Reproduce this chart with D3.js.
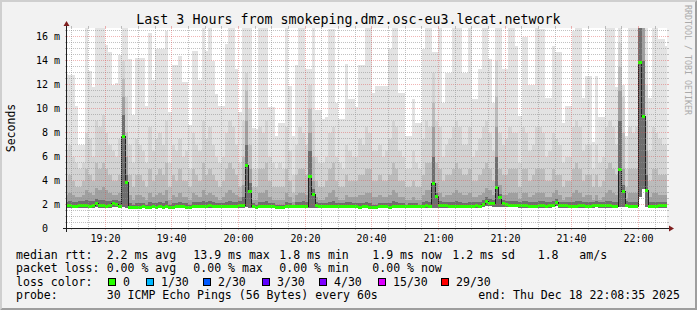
<!DOCTYPE html>
<html>
<head>
<meta charset="utf-8">
<script src="https://cdn.jsdelivr.net/npm/d3@7"></script>
<style>
body { margin: 0; background: #f2f2f2; }
svg text { font-family: "DejaVu Sans Mono", monospace; }
</style>
</head>
<body>
<svg id="vis" width="697" height="310"></svg>
<script>
// one column per minute, first column starts 19:08:00 (UTC), 181 columns
var medianRtt = [
 1.95,1.95,1.9,1.9,2.0,1.95,1.95,1.9,2.0,2.1,
 2.0,1.95,1.9,1.95,2.1,2.05,1.9,7.7,3.9,1.8,
 1.8,1.8,1.8,1.85,1.8,1.8,1.85,1.8,1.85,1.8,
 1.85,1.8,1.8,1.85,1.9,1.85,1.8,1.8,1.85,1.85,
 1.9,1.85,1.85,1.95,1.9,1.85,1.9,1.85,1.85,1.9,
 1.85,1.9,2.0,1.95,5.3,3.1,1.85,1.8,1.85,1.9,
 1.9,1.85,1.85,1.8,1.8,1.8,1.85,1.85,1.85,1.85,
 1.85,1.9,1.85,4.4,2.9,1.95,1.85,1.85,1.85,1.9,
 1.9,1.85,1.85,1.9,1.9,1.9,1.85,1.85,1.8,1.85,
 1.85,1.8,1.8,1.8,1.85,1.85,1.85,1.8,1.85,1.9,
 1.9,1.85,1.85,1.9,1.85,1.9,1.85,1.9,1.95,1.85,
 3.8,2.7,1.95,1.95,1.95,1.9,1.85,1.9,1.9,1.85,
 1.85,1.9,1.9,1.95,1.9,2.05,2.3,2.15,2.1,3.5,
 2.6,2.1,2.05,2.0,2.0,2.0,1.95,1.95,1.95,1.9,
 1.9,1.9,1.95,1.95,1.9,1.95,2.0,2.2,1.95,1.95,
 1.95,1.9,1.9,1.9,1.95,1.95,1.9,1.9,1.95,2.0,
 1.95,1.95,1.95,1.95,1.9,1.85,5.0,3.1,2.0,1.9,
 1.9,1.85,13.9,9.4,3.2,1.9,1.9,1.9,1.95,1.95,
 1.95];

var smokeMax = [
 12.9,12.8,12.8,10.2,7.0,7.0,16.7,13.1,11.8,16.7,
 16.7,16.7,15.3,14.7,12.0,12.1,14.5,16.7,16.7,14.1,
 9.5,14.2,14.2,14.2,10.2,16.3,12.4,15.0,15.0,15.0,
 16.5,9.7,13.6,13.6,14.4,12.2,12.2,8.6,14.8,14.8,
 12.4,16.7,14.8,16.7,14.0,11.2,10.2,10.2,15.4,16.7,
 16.7,13.3,9.7,16.7,16.7,16.7,8.4,8.3,16.7,16.7,
 16.7,10.1,10.1,7.7,8.8,8.8,16.7,11.9,7.7,13.6,
 16.7,16.7,13.3,13.3,16.7,9.9,9.9,9.1,9.3,16.6,
 16.6,10.5,9.1,9.1,13.7,10.8,10.8,10.1,13.6,13.6,
 16.7,16.7,11.3,11.9,11.9,11.9,11.9,15.0,16.7,16.7,
 11.3,11.3,7.7,7.7,10.8,8.8,8.8,15.0,16.7,16.7,
 14.7,14.7,16.7,10.5,13.0,13.0,16.7,16.7,16.7,13.0,
 13.0,16.7,10.8,10.8,13.3,16.7,16.7,14.1,10.5,16.7,
 16.7,13.3,13.3,16.7,16.7,15.2,9.4,16.0,16.0,12.0,
 12.0,16.7,16.6,16.6,10.9,10.9,15.2,14.7,14.7,8.8,
 10.2,10.2,16.5,16.7,16.7,10.9,12.7,12.7,7.2,12.7,
 9.3,9.3,16.7,16.7,16.7,11.8,16.7,12.0,7.7,16.7,
 16.7,16.7,16.7,16.7,16.7,10.9,16.7,16.7,15.8,15.8,
 15.2];

var smokeUpper = [
 6.5,7.0,6.0,5.5,5.0,5.5,8.0,7.5,6.0,9.0,
 8.5,9.5,8.0,7.0,6.5,6.0,7.5,14.0,11.0,7.0,
 5.5,7.5,7.0,6.5,5.5,8.5,6.5,7.5,8.0,7.0,
 9.0,5.5,7.0,6.5,7.5,6.0,6.5,5.0,8.0,7.0,
 6.5,9.0,7.5,8.5,7.0,6.0,5.5,6.0,8.0,9.0,
 8.5,7.0,5.5,9.0,13.0,10.0,5.0,5.0,8.5,8.0,
 9.0,6.0,5.5,5.0,5.5,5.0,8.5,6.5,4.5,7.0,
 8.5,8.0,7.0,12.0,9.0,6.0,5.5,5.5,6.0,8.0,
 8.5,6.0,5.5,5.0,7.0,6.5,6.0,6.0,7.5,7.0,
 8.5,8.0,6.5,6.5,7.0,6.0,6.5,7.5,9.0,8.5,
 6.5,6.0,5.0,5.0,6.5,5.5,5.0,7.5,9.0,8.5,
 13.0,9.0,8.5,6.0,7.0,7.5,8.5,9.0,8.5,7.0,
 7.0,8.5,6.0,6.5,7.5,8.5,9.0,8.0,6.5,14.0,
 8.0,7.0,7.5,8.5,8.0,8.0,5.5,8.5,8.0,6.5,
 7.0,8.5,8.5,8.0,6.0,6.5,8.0,7.5,7.0,5.5,
 6.0,6.0,8.5,9.0,8.5,6.5,7.0,7.0,5.0,7.0,
 5.5,6.0,8.5,9.0,8.5,7.0,15.5,11.0,5.0,8.5,
 8.0,8.5,16.7,16.7,12.0,6.5,8.5,8.0,7.5,7.0,
 7.0];

var smokeMid = [
 4.0,4.5,4.0,3.5,3.5,4.0,5.0,4.5,4.0,5.5,
 5.0,5.5,5.0,4.5,4.0,4.0,4.5,12.5,8.0,4.5,
 3.5,4.5,4.5,4.0,3.5,5.0,4.0,4.5,5.0,4.5,
 5.5,3.5,4.5,4.0,5.0,4.0,4.0,3.5,5.0,4.5,
 4.0,5.5,4.5,5.0,4.5,4.0,3.5,4.0,5.0,5.5,
 5.0,4.5,3.5,6.0,11.5,7.0,3.5,3.5,5.0,5.0,
 5.5,4.0,3.5,3.5,3.5,3.5,5.0,4.0,3.0,4.5,
 5.0,5.0,4.5,10.0,6.0,4.0,3.5,3.5,4.0,5.0,
 5.5,4.0,3.5,3.5,4.5,4.0,4.0,4.0,4.5,4.5,
 5.0,5.0,4.0,4.0,4.5,4.0,4.0,4.5,5.5,5.0,
 4.0,4.0,3.5,3.5,4.0,3.5,3.5,4.5,5.5,5.5,
 10.5,5.5,5.0,4.0,4.5,4.5,5.0,5.5,5.0,4.5,
 4.5,5.0,4.0,4.0,4.5,5.0,5.5,5.0,4.0,11.0,
 5.0,4.5,4.5,5.0,5.0,5.0,3.5,5.0,5.0,4.0,
 4.5,5.0,5.0,5.0,4.0,4.0,5.0,4.5,4.5,3.5,
 4.0,4.0,5.0,5.5,5.0,4.0,4.5,4.5,3.5,4.5,
 3.5,4.0,5.0,5.5,5.0,4.5,13.5,8.0,3.5,5.0,
 5.0,5.0,16.7,16.7,9.0,4.0,5.0,5.0,4.5,4.5,
 4.5];

var smokeLower = [
 2.8,3.0,2.8,2.6,2.6,2.8,3.2,3.0,2.8,3.4,
 3.2,3.5,3.2,3.0,2.8,2.8,3.0,11.0,6.0,2.8,
 2.4,2.8,2.8,2.6,2.4,3.0,2.6,2.8,3.0,2.8,
 3.2,2.4,2.8,2.6,3.0,2.6,2.6,2.4,3.0,2.8,
 2.6,3.2,2.8,3.0,2.8,2.6,2.4,2.6,3.0,3.2,
 3.0,2.8,2.6,3.6,9.0,5.0,2.4,2.4,3.0,3.0,
 3.2,2.6,2.4,2.4,2.4,2.4,3.0,2.6,2.2,2.8,
 3.0,3.0,2.8,8.0,4.0,2.6,2.4,2.4,2.6,3.0,
 3.2,2.6,2.4,2.4,2.8,2.6,2.6,2.6,2.8,2.8,
 3.0,3.0,2.6,2.6,2.8,2.6,2.6,2.8,3.2,3.0,
 2.6,2.6,2.4,2.4,2.6,2.4,2.4,2.8,3.2,3.2,
 8.5,3.8,3.0,2.6,2.8,2.8,3.0,3.2,3.0,2.8,
 2.8,3.0,2.6,2.6,2.8,3.0,3.4,3.2,2.8,8.5,
 3.6,2.8,2.8,3.0,3.0,3.0,2.5,3.0,3.0,2.6,
 2.8,3.0,3.0,3.0,2.6,2.6,3.0,3.2,2.8,2.4,
 2.6,2.6,3.0,3.2,3.0,2.6,2.8,2.8,2.4,2.8,
 2.4,2.6,3.0,3.2,3.0,2.8,11.5,5.0,2.5,3.0,
 3.0,3.0,16.7,16.7,6.5,2.6,3.0,3.0,2.8,2.8,
 2.8];

var smokeInner = [
 2.2,2.3,2.2,2.2,2.3,2.3,2.4,2.3,2.3,2.5,
 2.4,2.4,2.3,2.3,2.4,2.4,2.3,9.5,4.5,2.1,
 2.0,2.1,2.1,2.1,2.0,2.2,2.1,2.1,2.2,2.1,
 2.3,2.0,2.1,2.1,2.2,2.1,2.1,2.0,2.2,2.2,
 2.2,2.3,2.2,2.3,2.2,2.1,2.1,2.1,2.2,2.3,
 2.2,2.2,2.3,2.6,7.0,3.8,2.1,2.0,2.2,2.2,
 2.3,2.1,2.1,2.0,2.0,2.0,2.2,2.1,2.0,2.2,
 2.2,2.3,2.2,6.5,3.3,2.2,2.1,2.1,2.1,2.2,
 2.3,2.1,2.1,2.1,2.2,2.2,2.1,2.1,2.1,2.1,
 2.2,2.1,2.0,2.0,2.1,2.1,2.1,2.1,2.3,2.2,
 2.1,2.1,2.0,2.1,2.1,2.1,2.0,2.2,2.3,2.2,
 6.0,3.0,2.3,2.2,2.2,2.2,2.2,2.3,2.2,2.1,
 2.1,2.2,2.2,2.2,2.2,2.4,2.6,2.5,2.4,6.0,
 2.9,2.4,2.3,2.3,2.3,2.3,2.2,2.3,2.3,2.2,
 2.2,2.2,2.3,2.3,2.2,2.2,2.3,2.5,2.2,2.2,
 2.2,2.2,2.2,2.3,2.3,2.2,2.2,2.2,2.2,2.3,
 2.2,2.2,2.3,2.3,2.2,2.2,9.0,3.6,2.3,2.2,
 2.2,2.2,16.7,14.0,4.5,2.2,2.2,2.2,2.2,2.2,
 2.2];

var smokeMin = [
 1.75,1.75,1.7,1.7,1.75,1.75,1.75,1.7,1.75,1.8,
 1.75,1.75,1.7,1.75,1.8,1.8,1.7,1.8,1.75,1.65,
 1.65,1.65,1.65,1.7,1.65,1.65,1.7,1.65,1.7,1.65,
 1.7,1.65,1.65,1.7,1.7,1.7,1.65,1.65,1.7,1.7,
 1.7,1.7,1.7,1.75,1.7,1.7,1.7,1.7,1.7,1.7,
 1.7,1.7,1.75,1.75,1.8,1.75,1.7,1.65,1.7,1.7,
 1.7,1.7,1.7,1.65,1.65,1.65,1.7,1.7,1.7,1.7,
 1.7,1.7,1.7,1.75,1.75,1.75,1.7,1.7,1.7,1.7,
 1.7,1.7,1.7,1.7,1.7,1.7,1.7,1.7,1.65,1.7,
 1.7,1.65,1.65,1.65,1.7,1.7,1.7,1.65,1.7,1.7,
 1.7,1.7,1.7,1.7,1.7,1.7,1.7,1.7,1.75,1.7,
 1.75,1.75,1.75,1.75,1.75,1.7,1.7,1.7,1.7,1.7,
 1.7,1.7,1.7,1.75,1.7,1.8,1.9,1.85,1.8,1.8,
 1.8,1.8,1.8,1.8,1.8,1.8,1.75,1.75,1.75,1.7,
 1.7,1.7,1.75,1.75,1.7,1.75,1.8,1.85,1.75,1.75,
 1.75,1.7,1.7,1.7,1.75,1.75,1.7,1.7,1.75,1.8,
 1.75,1.75,1.75,1.75,1.7,1.7,1.8,1.8,1.8,1.7,
 1.7,1.7,2.6,3.3,1.8,1.7,1.7,1.7,1.75,1.75,
 1.75];

var yTickValues = [0, 2, 4, 6, 8, 10, 12, 14, 16];
var yTickLabels = ["0\u00a0\u00a0", "2 m", "4 m", "6 m", "8 m", "10 m", "12 m", "14 m", "16 m"];
var xTickLabels = ["19:20", "19:40", "20:00", "20:20", "20:40", "21:00", "21:20", "21:40", "22:00"];

var rttStats = ["2.2 ms avg", "13.9 ms max", "1.8 ms min", "1.9 ms now", "1.2 ms sd", "1.8", "am/s"];
var lossStats = ["0.00 % avg", "0.00 % max", "0.00 % min", "0.00 % now"];
var lossLabels = ["0", "1/30", "2/30", "3/30", "4/30", "15/30", "29/30"];
var lossColors = ["#26ff00", "#00b8ff", "#0059ff", "#5e00ff", "#7e00ff", "#dd00ff", "#ff0000"];
var probeText = "30 ICMP Echo Pings (56 Bytes) every 60s";
var endText = "end: Thu Dec 18 22:08:35 2025";
var titleText = "Last 3 Hours from smokeping.dmz.osc-eu3.lecat.network";

var tEnd = Date.UTC(2025, 11, 18, 22, 8, 35);
var tStart = tEnd - 3 * 3600 * 1000;
var colStart = Date.UTC(2025, 11, 18, 19, 8, 0);
var step = 60000;

var svg = d3.select("#vis");
var X0 = 67, X1 = 667, Y0 = 228, Y1 = 28;

var x = d3.scaleUtc().domain([tStart, tEnd]).range([X0, X1]);
var y = d3.scaleLinear().domain([0, 16.71]).range([Y0 + 0.5, Y1]);

// frame
svg.append("rect").attr("width", 697).attr("height", 310).attr("fill", "#f2f2f2");
svg.append("path").attr("d", "M0,0L697,0L695,2L2,2L2,308L0,310Z").attr("fill", "#cfcfcf");
svg.append("path").attr("d", "M697,0L697,310L0,310L2,308L695,308L695,2Z").attr("fill", "#9e9e9e");
svg.append("rect").attr("x", X0).attr("y", Y1).attr("width", X1 - X0).attr("height", Y0 - Y1).attr("fill", "#fff");

svg.append("clipPath").attr("id", "plot")
  .append("rect").attr("x", X0).attr("y", Y1).attr("width", X1 - X0).attr("height", Y0 - Y1);

var cols = medianRtt.map(function(m, i) {
  return { t: colStart + i * step, med: m, lo: smokeMin[i],
    bands: [smokeMax[i], smokeUpper[i], smokeMid[i], smokeLower[i], smokeInner[i]] };
});
// closing point so the last step has a width
var last = cols[cols.length - 1];
var stepCols = cols.concat([{ t: last.t + step, med: last.med, lo: last.lo, bands: last.bands }]);

var g = svg.append("g").attr("clip-path", "url(#plot)");

var smokeColors = ["#e3e3e3", "#d3d3d3", "#bcbcbc", "#a0a0a0", "#6e6e6e"];
smokeColors.forEach(function(c, b) {
  var area = d3.area()
    .x(function(d) { return x(d.t); })
    .y0(function(d) { return y(d.lo); })
    .y1(function(d) { return y(d.bands[b]); })
    .curve(d3.curveStepAfter);
  g.append("path").datum(stepCols).attr("d", area).attr("fill", c).attr("shape-rendering", "crispEdges");
});

// median: dark step line, then loss-colored bars
var medLine = d3.line()
  .x(function(d) { return x(d.t); })
  .y(function(d) { return Math.round(y(d.med)) + 0.5; })
  .curve(d3.curveStepAfter);
g.append("path").datum(stepCols).attr("d", medLine)
  .attr("fill", "none").attr("stroke", "#202020").attr("stroke-width", 1).attr("shape-rendering", "crispEdges");

g.selectAll("rect.med").data(cols).enter().append("rect")
  .attr("class", "med")
  .attr("x", function(d) { return x(d.t); })
  .attr("width", function(d) { return x(d.t + step) - x(d.t); })
  .attr("y", function(d) { return Math.round(y(d.med)) - 1; })
  .attr("height", 3)
  .attr("fill", lossColors[0])
  .attr("shape-rendering", "crispEdges");

// grid
var gridColor = "rgba(143,143,143,0.55)", mgridColor = "rgba(222,79,79,0.42)";
var grid = svg.append("g").attr("shape-rendering", "crispEdges");
d3.range(1, 34).forEach(function(k) {
  var v = k * 0.5, major = (k % 4 === 0);
  var yy = Math.round(y(v) - 0.5) + 0.5;
  var col = major ? mgridColor : gridColor;
  grid.append("line").attr("x1", X0).attr("x2", X1).attr("y1", yy).attr("y2", yy)
    .attr("stroke", col).attr("stroke-dasharray", "1,1");
  grid.append("line").attr("x1", X0 - 2).attr("x2", X0).attr("y1", yy).attr("y2", yy).attr("stroke", col);
  grid.append("line").attr("x1", X1).attr("x2", X1 + 2).attr("y1", yy).attr("y2", yy).attr("stroke", col);
});
d3.utcMinute.every(5).range(new Date(tStart), new Date(tEnd)).forEach(function(t) {
  var major = (t.getUTCMinutes() % 20 === 0);
  var xx = Math.floor(x(t)) + 0.5;
  var col = major ? mgridColor : gridColor;
  grid.append("line").attr("x1", xx).attr("x2", xx).attr("y1", Y1).attr("y2", Y0)
    .attr("stroke", col).attr("stroke-dasharray", "1,1");
  grid.append("line").attr("x1", xx).attr("x2", xx).attr("y1", Y0).attr("y2", Y0 + 2).attr("stroke", col);
  grid.append("line").attr("x1", xx).attr("x2", xx).attr("y1", Y1 - 2).attr("y2", Y1).attr("stroke", col);
});

// axes
svg.append("line").attr("x1", X0 - 4).attr("x2", X1 + 4).attr("y1", Y0 + 0.5).attr("y2", Y0 + 0.5)
  .attr("stroke", "#1f1f1f").attr("shape-rendering", "crispEdges");
svg.append("line").attr("x1", X0 - 0.5).attr("x2", X0 - 0.5).attr("y1", Y0 + 4).attr("y2", Y1 - 4)
  .attr("stroke", "#1f1f1f").attr("shape-rendering", "crispEdges");
svg.append("path").attr("d", "M" + (X1 + 2) + "," + (Y0 - 2.5) + "L" + (X1 + 2) + "," + (Y0 + 3.5) + "L" + (X1 + 7) + "," + (Y0 + 0.5) + "Z")
  .attr("fill", "#7f1f1f");
svg.append("path").attr("d", "M" + (X0 - 3.5) + "," + (Y1 - 2) + "L" + (X0 + 2.5) + "," + (Y1 - 2) + "L" + (X0 - 0.5) + "," + (Y1 - 7) + "Z")
  .attr("fill", "#7f1f1f");

// tick labels
svg.selectAll("text.ylab").data(yTickValues).enter().append("text")
  .attr("class", "ylab")
  .attr("x", 60).attr("y", function(d) { return y(d) + 3.5; })
  .attr("text-anchor", "end").attr("font-size", "10px").attr("fill", "#000")
  .text(function(d, i) { return yTickLabels[i]; });

var xTicks = d3.utcMinute.every(20).range(new Date(tStart), new Date(tEnd));
svg.selectAll("text.xlab").data(xTicks).enter().append("text")
  .attr("class", "xlab")
  .attr("x", function(d) { return Math.floor(x(d)) + 0.5; }).attr("y", 241.5)
  .attr("text-anchor", "middle").attr("font-size", "10px").attr("fill", "#000")
  .text(function(d, i) { return xTickLabels[i]; });

// title and side texts
svg.append("text").attr("x", 348.5).attr("y", 24).attr("text-anchor", "middle")
  .attr("font-size", "13.3px").attr("fill", "#000").text(titleText);
svg.append("text").attr("transform", "translate(15,128) rotate(-90)").attr("text-anchor", "middle")
  .attr("font-size", "11.5px").attr("fill", "#000").text("Seconds");
svg.append("text").attr("transform", "translate(685,5) rotate(90)").attr("text-anchor", "start")
  .attr("font-size", "8.3px").attr("fill", "#aaa").text("RRDTOOL / TOBI OETIKER");

// legend
var lg = svg.append("g").attr("font-size", "11.55px").attr("fill", "#000");
var rowY = [259, 272.3, 285.7, 299];
var statX = [106.7, 193.3, 279.3, 372.3, 452.3, 537.7, 579.3];
lg.append("text").attr("x", 16).attr("y", rowY[0]).text("median rtt:");
rttStats.forEach(function(s, i) { lg.append("text").attr("x", statX[i]).attr("y", rowY[0]).text(s); });
lg.append("text").attr("x", 16).attr("y", rowY[1]).text("packet loss:");
lossStats.forEach(function(s, i) { lg.append("text").attr("x", statX[i]).attr("y", rowY[1]).text(s); });
lg.append("text").attr("x", 16).attr("y", rowY[2]).text("loss color:");
var boxX = [108, 146, 203, 262, 319, 378, 441];
lossLabels.forEach(function(s, i) {
  lg.append("rect").attr("x", boxX[i] + 0.5).attr("y", 278.5).attr("width", 7).attr("height", 7)
    .attr("fill", lossColors[i]).attr("stroke", "#000").attr("stroke-width", 1);
  lg.append("text").attr("x", boxX[i] + 15).attr("y", rowY[2]).text(s);
});
lg.append("text").attr("x", 16).attr("y", rowY[3]).text("probe:");
lg.append("text").attr("x", 106.7).attr("y", rowY[3]).text(probeText);
lg.append("text").attr("x", 478.3).attr("y", rowY[3]).text(endText);
</script>
</body>
</html>
